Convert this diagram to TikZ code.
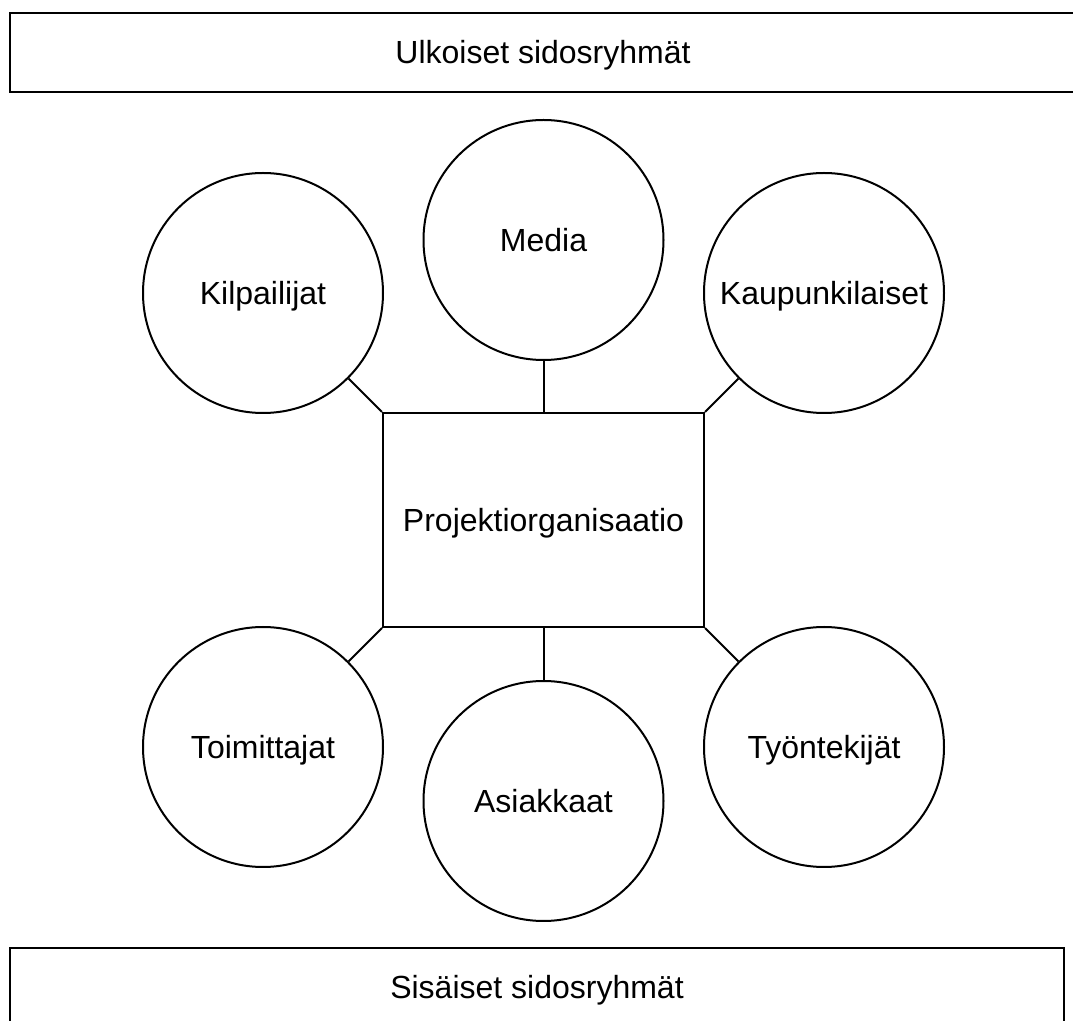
\documentclass[tikz,border=0pt]{standalone}
\usepackage{fontspec}
\setmainfont{Liberation Sans}
\usepackage{tikz}

\begin{document}
\begin{tikzpicture}[x=0.5pt,y=-0.5pt,
  every node/.style={font=\fontsize{16}{19}\selectfont,text height=14.5pt,text depth=3.4pt},
  ryhma/.style={draw,line width=1.3pt,inner sep=0pt,minimum height=39.5pt},
  sidos/.style={draw,circle,line width=1pt,inner sep=0pt,minimum size=120pt},
  yhteys/.style={line width=1pt}]
 	\useasboundingbox (0,0) rectangle (1073,1021);
 	% ryhmat
 	\node[ryhma,minimum width=533pt] (ulkoiset) at (543,52.5) {Ulkoiset sidosryhmät};
 	\node[ryhma,minimum width=527pt] (sisaiset) at (537,987.5) {Sisäiset sidosryhmät};
 	% keskus
 	\node[draw,line width=1pt,inner sep=0pt,minimum width=160.5pt,minimum height=107pt] (projekti) at (543.5,520) {Projektiorganisaatio};
 	% sidosryhmat
 	\node[sidos] (kilpailijat) at (263,293) {Kilpailijat};
 	\node[sidos] (media) at (543.5,240) {Media};
 	\node[sidos] (kaupunki) at (824,293) {Kaupunkilaiset};
 	\node[sidos] (toimittajat) at (263,747) {Toimittajat};
 	\node[sidos] (asiakkaat) at (543.5,801) {Asiakkaat};
 	\node[sidos] (tyontekijat) at (824,747) {Työntekijät};
 	% yhteydet
 	\draw[yhteys] (kilpailijat) -- (projekti.north west);
 	\draw[yhteys] (media) -- (projekti.north);
 	\draw[yhteys] (kaupunki) -- (projekti.north east);
 	\draw[yhteys] (toimittajat) -- (projekti.south west);
 	\draw[yhteys] (asiakkaat) -- (projekti.south);
 	\draw[yhteys] (tyontekijat) -- (projekti.south east);
\end{tikzpicture}
\end{document}
